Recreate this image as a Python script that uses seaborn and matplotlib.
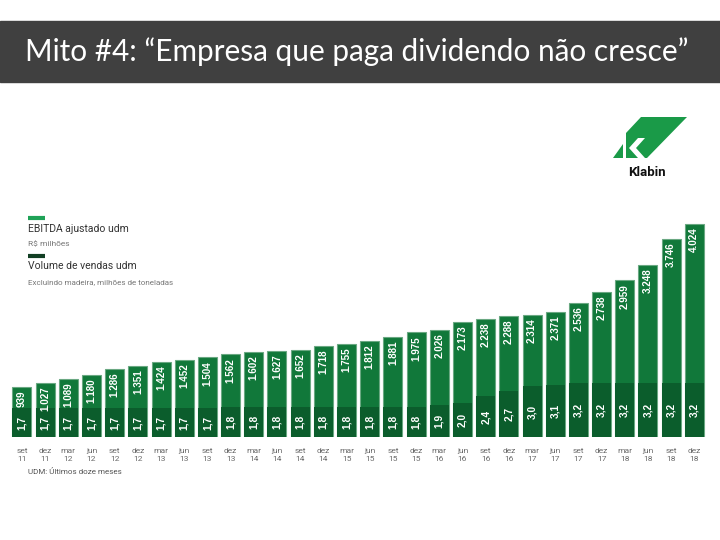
import numpy as np
import pandas as pd
import seaborn as sns
import matplotlib.pyplot as plt
from matplotlib.patches import Rectangle, Polygon

sns.set_theme(style="white")
plt.rcParams['font.family'] = ['Roboto', 'DejaVu Sans']

# data
periods = ['set\n11', 'dez\n11', 'mar\n12', 'jun\n12', 'set\n12', 'dez\n12',
           'mar\n13', 'jun\n13', 'set\n13', 'dez\n13', 'mar\n14', 'jun\n14',
           'set\n14', 'dez\n14', 'mar\n15', 'jun\n15', 'set\n15', 'dez\n15',
           'mar\n16', 'jun\n16', 'set\n16', 'dez\n16', 'mar\n17', 'jun\n17',
           'set\n17', 'dez\n17', 'mar\n18', 'jun\n18', 'set\n18', 'dez\n18']
ebitda = [939, 1027, 1089, 1180, 1286, 1351, 1424, 1452, 1504, 1562,
          1602, 1627, 1652, 1718, 1755, 1812, 1881, 1975, 2026, 2173,
          2238, 2288, 2314, 2371, 2536, 2738, 2959, 3248, 3746, 4024]
volume = [1.7, 1.7, 1.7, 1.7, 1.7, 1.7, 1.7, 1.7, 1.7, 1.8,
          1.8, 1.8, 1.8, 1.8, 1.8, 1.8, 1.8, 1.8, 1.9, 2.0,
          2.4, 2.7, 3.0, 3.1, 3.2, 3.2, 3.2, 3.2, 3.2, 3.2]

df = pd.DataFrame({'periodo': periods, 'ebitda': ebitda, 'volume': volume})

c_ebitda = '#11783a'
c_volume = '#0b5d2c'
c_edge = '#6aa882'

fig = plt.figure(figsize=(7.2, 5.4), dpi=100)
ax = fig.add_axes([0.0144, 0.1907, 0.966, 0.4389])
ax2 = ax.twinx()

sns.barplot(data=df, x='periodo', y='ebitda', order=periods, color=c_ebitda,
            saturation=1, width=0.82, edgecolor=c_edge, linewidth=0.8, ax=ax)
sns.barplot(data=df, x='periodo', y='volume', order=periods, color=c_volume,
            saturation=1, width=0.82, linewidth=0, ax=ax2)

ax.set_ylim(0, max(ebitda) * 237 / 213)
ax2.set_ylim(0, 237 / 16.9)

# ebitda labels drawn on the top axes so the volume bars don't hide them
for i, v in enumerate(ebitda):
    ax2.annotate(f"{v:,}".replace(',', '.'), (i, v), xycoords=ax.transData,
                 xytext=(0, -2.5), textcoords='offset points', rotation=90,
                 ha='center', va='top', color='white', fontsize=7.1,
                 fontweight='bold', family='Liberation Sans')
for i, v in enumerate(volume):
    ax2.text(i, v / 2, f"{v:.1f}".replace('.', ','), rotation=90,
             ha='center', va='center', color='white', fontsize=7.3,
             fontweight='bold', family='Liberation Sans')

for a in (ax, ax2):
    a.set_xlabel('')
    a.set_ylabel('')
    a.set_yticks([])
    for s in a.spines.values():
        s.set_visible(False)
ax.set_xlim(-0.5, len(periods) - 0.5)
ax.tick_params(axis='x', length=0, pad=8, labelsize=6, labelcolor='#6a6a6a')
ax.set_xticks(range(len(periods)))
ax.set_xticklabels(periods, linespacing=1.35)

# overlay for title bar, legend notes and logo
ov = fig.add_axes([0, 0, 1, 1])
ov.set_xlim(0, 720)
ov.set_ylim(540, 0)
ov.axis('off')
ov.patch.set_alpha(0)

ov.add_patch(Rectangle((0, 21), 720, 61, color='#404040'))
ov.text(25, 52, 'Mito #4: “Empresa que paga dividendo não cresce”',
        color='white', fontsize=21.4, family='Lato', va='center', ha='left')

ov.plot([28, 45], [218, 218], color='#1fa257', lw=3, solid_capstyle='butt')
ov.text(28, 229, 'EBITDA ajustado udm', fontsize=7.5, color='#333333', va='center')
ov.text(28, 244, 'R$ milhões', fontsize=6, color='#777777', va='center')
ov.plot([28, 45], [256, 256], color='#123f24', lw=3, solid_capstyle='butt')
ov.text(28, 266, 'Volume de vendas udm', fontsize=7.5, color='#333333', va='center')
ov.text(28, 282, 'Excluindo madeira, milhões de toneladas', fontsize=5.8,
        color='#777777', va='center')
ov.text(28, 471, 'UDM: Últimos doze meses', fontsize=5.8, color='#555555', va='center')

# Klabin logo
logo_green = '#1a9a48'
ov.add_patch(Polygon([(641, 117), (687, 117), (647, 158), (626, 158), (626, 133)],
                     closed=True, color=logo_green, lw=0))
ov.add_patch(Polygon([(613, 158), (623, 144), (623, 158)], closed=True,
                     color=logo_green, lw=0))
ov.add_patch(Polygon([(638, 138), (645, 138), (636, 148), (645, 158), (638, 158),
                      (629, 148)], closed=True, color='white', lw=0))
ov.text(647, 172, 'Klabin', fontsize=9.5, fontweight='bold', color='#111111',
        ha='center', va='center')

fig.savefig('out.png', dpi=100)
